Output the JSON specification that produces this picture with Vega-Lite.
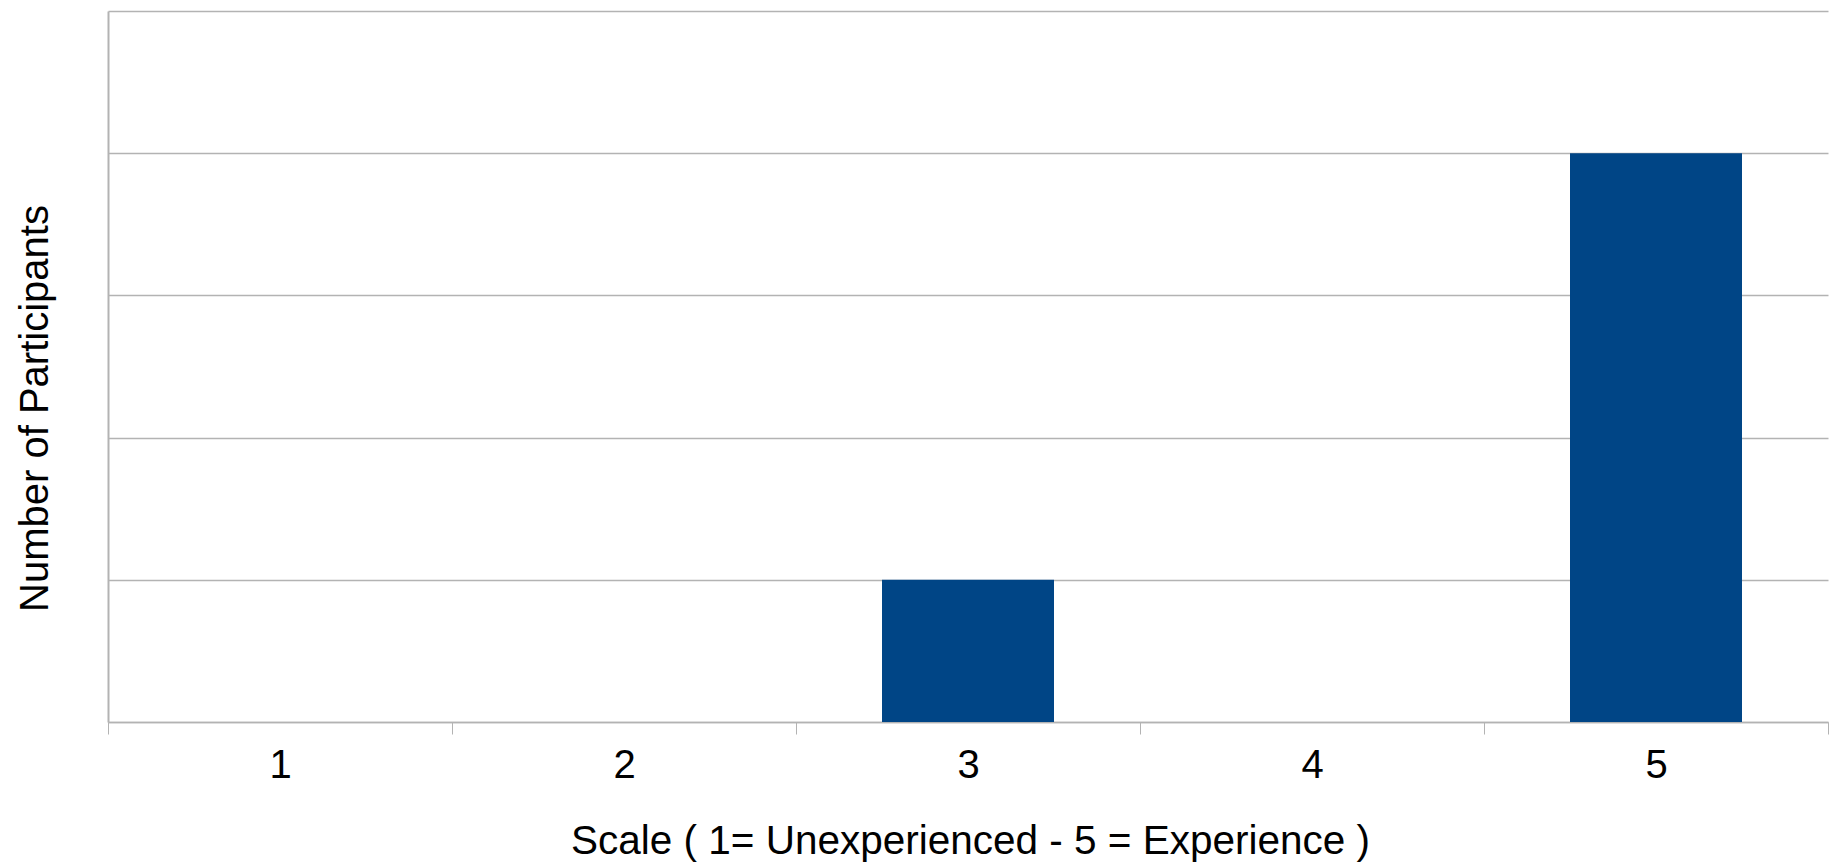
{
  "$schema": "https://vega.github.io/schema/vega-lite/v6.json",
  "autosize": {"type": "none"},
  "width": 1720,
  "height": 711,
  "padding": {"left": 108, "top": 11, "right": 1, "bottom": 144},
  "background": "white",
  "config": {
    "view": {"stroke": null},
    "font": "Liberation Sans"
  },
  "data": {
    "values": [
      {"scale": "1", "participants": 0},
      {"scale": "2", "participants": 0},
      {"scale": "3", "participants": 1},
      {"scale": "4", "participants": 0},
      {"scale": "5", "participants": 4}
    ]
  },
  "mark": {"type": "bar", "color": "#004586", "width": {"band": 0.5}},
  "encoding": {
    "x": {
      "field": "scale",
      "type": "ordinal",
      "sort": ["1", "2", "3", "4", "5"],
      "scale": {"paddingInner": 0, "paddingOuter": 0},
      "axis": {
        "title": "Scale ( 1= Unexperienced - 5 = Experience )",
        "titleFont": "Liberation Sans",
        "titleFontSize": 40.5,
        "titleFontWeight": "normal",
        "titleColor": "#000000",
        "titleBaseline": "alphabetic",
        "titleX": 862,
        "titleY": 131,
        "titleAlign": "center",
        "labelAngle": 0,
        "labelFont": "Liberation Sans",
        "labelFontSize": 40,
        "labelColor": "#000000",
        "labelBaseline": "alphabetic",
        "labelPadding": 43,
        "tickBand": "extent",
        "tickSize": 12,
        "tickColor": "#b3b3b3",
        "domainColor": "#b3b3b3",
        "domainWidth": 1.5,
        "grid": false
      }
    },
    "y": {
      "field": "participants",
      "type": "quantitative",
      "scale": {"domain": [0, 5], "nice": false},
      "axis": {
        "title": "Number of Participants",
        "titleFont": "Liberation Sans",
        "titleFontSize": 40,
        "titleFontWeight": "normal",
        "titleColor": "#000000",
        "titleBaseline": "alphabetic",
        "titleAngle": -90,
        "titleAlign": "center",
        "titleX": -61,
        "titleY": 397,
        "values": [0, 1, 2, 3, 4, 5],
        "labels": false,
        "ticks": false,
        "grid": true,
        "gridColor": "#b3b3b3",
        "gridWidth": 1.5,
        "domainColor": "#b3b3b3",
        "domainWidth": 2
      }
    }
  }
}
